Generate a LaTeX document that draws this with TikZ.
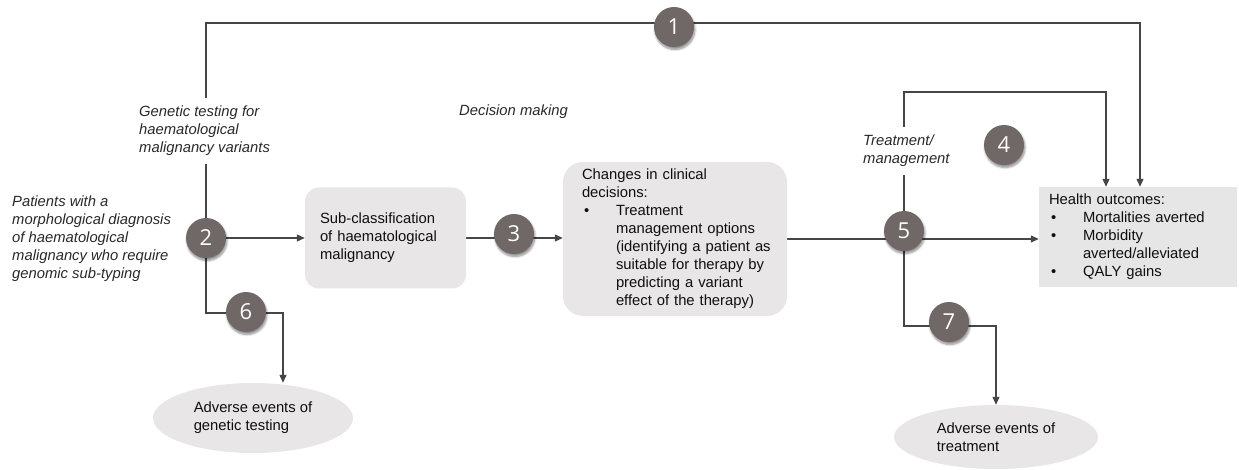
\documentclass[tikz,border=0pt]{standalone}
\usepackage{fontspec}
\setmainfont{Liberation Sans}
\newfontfamily\numfont{Open Sans}
\usetikzlibrary{arrows.meta,shadows.blur,backgrounds,shapes.geometric}

\definecolor{lineC}{RGB}{70,70,70}
\definecolor{numC}{RGB}{112,104,102}
\definecolor{boxC}{RGB}{232,230,230}
\definecolor{outC}{RGB}{230,230,230}
\definecolor{txtC}{RGB}{15,15,15}
\definecolor{lblC}{RGB}{40,40,40}

% bullet item and continuation line of a hand-broken list
\newcommand{\bul}[1]{\mbox{\makebox[34pt][l]{\hspace{2pt}\textbullet}#1}}
\newcommand{\ind}[1]{\mbox{\hspace*{34pt}#1}}

\begin{document}
\begin{tikzpicture}[x=1pt,y=-1pt,
  every node/.style={font=\fontsize{14.8}{18}\selectfont, text=txtC},
  num/.style={circle, fill=numC, minimum size=40pt, inner sep=0pt,
    text=white, font=\numfont\fontsize{22}{24}\selectfont,
    blur shadow={shadow xshift=1pt, shadow yshift=-2.5pt,
      shadow blur steps=6, shadow opacity=45}},
  stagebox/.style={fill=boxC, draw=none, align=left},
  outbox/.style={fill=outC, draw=none, align=left},
  evt/.style={ellipse, fill=boxC, draw=none, align=left, inner sep=0pt},
  lbl/.style={align=left, inner xsep=0pt, font=\itshape\fontsize{14.8}{18}\selectfont, text=lblC},
  conn/.style={draw=lineC, line width=1.2pt},
  arr/.style={conn, -{Triangle[length=8pt,width=7pt]}}]

\useasboundingbox (0,0) rectangle (1239,470);

% process boxes
\node[stagebox, rounded corners=14pt, minimum width=161pt, minimum height=101pt,
      text width=131pt, inner xsep=15pt] (sub) at (385.5,238)
  {Sub-classification\\of haematological\\malignancy};
\node[stagebox, rounded corners=20pt, minimum width=224pt, minimum height=154pt,
      text width=186pt, inner xsep=19pt] (changes) at (675,239)
  {Changes in clinical\\decisions:\\\bul{Treatment}\\\ind{management options}\\
   \ind{(identifying a patient as}\\\ind{suitable for therapy by}\\
   \ind{predicting a variant}\\\ind{effect of the therapy)}};
\node[outbox, minimum width=198pt, minimum height=100pt,
      text width=178pt, inner xsep=10pt] (health) at (1138,237)
  {Health outcomes:\\\bul{Mortalities averted}\\\bul{Morbidity}\\
   \ind{averted/alleviated}\\\bul{QALY gains}};

% adverse events
\node[evt, minimum width=200pt, minimum height=70pt] (ae1) at (253,418)
  {Adverse events of\\genetic testing};
\node[evt, minimum width=204pt, minimum height=64pt] (ae2) at (996,437)
  {Adverse events of\\treatment};

% italic labels
\node[lbl, anchor=west, inner ysep=8pt] (gt) at (139,131)
  {Genetic testing for\\haematological\\malignancy variants};
\node[lbl, anchor=west] (pt) at (12,239)
  {Patients with a\\morphological diagnosis\\of haematological\\malignancy who require\\genomic sub-typing};
\node[lbl, anchor=base west] (dm) at (459,116) {Decision making};
\node[lbl, anchor=west, inner ysep=8pt] (tm) at (863,151)
  {Treatment/\\management};

% numbered markers
\node[num] (n1) at (674,27) {1};
\node[num] (n2) at (206,238) {2};
\node[num] (n3) at (514,234) {3};
\node[num] (n4) at (1004,145) {4};
\node[num] (n5) at (904,231) {5};
\node[num] (n6) at (246,312) {6};
\node[num] (n7) at (949,322) {7};

\coordinate (tl) at (206,23);
\coordinate (tr) at (1140,23);
\coordinate (c4) at (1106,92);
\coordinate (c6) at (283,313);
\coordinate (c7) at (996,326);

% connectors
\begin{scope}[on background layer]
  \draw[conn] (n2) -- (gt.south -| n2);
  \draw[arr] (gt.north -| n2) -- (tl) -- (tr) -- (tr |- health.north);
  \draw[arr] (n2) -- (n2 -| sub.west);
  \draw[arr] (sub.east) -- (sub.east -| changes.west);
  \draw[arr] (changes.east) -- (changes.east -| health.west);
  \draw[conn] (n5) -- (tm.south -| n5);
  \draw[arr] (tm.north -| n5) |- (c4) -- (c4 |- health.north);
  \draw[arr] (n2) |- (c6) -- (c6 |- ae1.north);
  \draw[arr] (n5) |- (c7) -- (ae2.north);
\end{scope}
\end{tikzpicture}
\end{document}
